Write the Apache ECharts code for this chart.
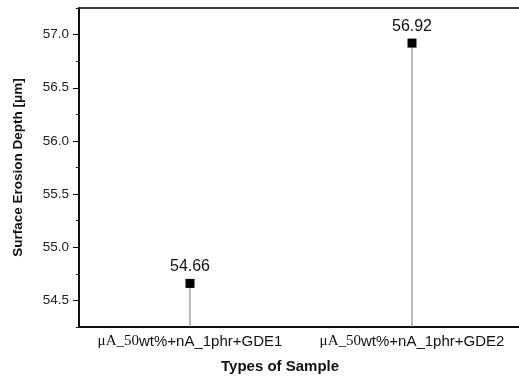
<!DOCTYPE html>
<html>
<head>
<meta charset="utf-8">
<script src="https://cdn.jsdelivr.net/npm/echarts@6/dist/echarts.min.js"></script>
<style>
html, body { margin: 0; padding: 0; background: #fff; }
#chart { width: 519px; height: 378px; }
</style>
</head>
<body>
<div id="chart"></div>
<script>
var samplePrefix = ['μA_50', 'μA_50'];
var sampleSuffix = ['wt%+nA_1phr+GDE1', 'wt%+nA_1phr+GDE2'];
var erosionDepth = [54.66, 56.92];
var majorTicks = [54.5, 55.0, 55.5, 56.0, 56.5, 57.0];
var minorTicks = [54.25, 54.75, 55.25, 55.75, 56.25, 56.75, 57.25];

var categories = sampleSuffix.map(function (s, i) { return i; });

var chart = echarts.init(document.getElementById('chart'));
var option = {
    animation: false,
    grid: {
        left: 79, top: 8, height: 319, width: 444,
        outerBoundsMode: 'none',
        containLabel: false,
        show: true, borderColor: '#000', borderWidth: 1.5
    },
    graphic: [{
        type: 'text',
        left: 221, top: 359,
        style: {
            text: 'Types of Sample',
            font: 'bold 15px "Liberation Sans", Arial, sans-serif',
            fill: '#111'
        }
    }],
    xAxis: {
        type: 'category',
        data: categories,
        axisLine: { lineStyle: { color: '#000', width: 1.5 } },
        axisTick: { show: false },
        axisLabel: {
            interval: 0,
            hideOverlap: false,
            margin: 7,
            formatter: function (v, i) {
                return '{s|' + samplePrefix[i] + '}{n|' + sampleSuffix[i] + '}';
            },
            rich: {
                s: { fontFamily: '"Liberation Serif", "Times New Roman", serif', fontSize: 15, color: '#111' },
                n: { fontFamily: '"Liberation Sans", Arial, sans-serif', fontSize: 15, color: '#111' }
            }
        }
    },
    yAxis: [{
        type: 'value',
        min: 54.25, max: 57.25,
        name: 'Surface Erosion Depth [μm]',
        nameLocation: 'middle',
        nameGap: 54,
        nameTextStyle: {
            fontFamily: '"Liberation Sans", Arial, sans-serif',
            fontWeight: 'bold', fontSize: 13.5, color: '#111'
        },
        axisLine: { show: true, lineStyle: { color: '#000', width: 1.5 } },
        axisTick: { show: true, customValues: majorTicks, length: 6, lineStyle: { color: '#000' } },
        axisLabel: {
            customValues: majorTicks,
            margin: 10,
            fontFamily: '"Liberation Sans", Arial, sans-serif',
            fontSize: 13.5, color: '#222',
            formatter: function (v) { return v.toFixed(1); }
        },
        splitLine: { show: false }
    }, {
        type: 'value',
        min: 54.25, max: 57.25,
        position: 'left',
        axisLine: { show: false },
        axisTick: { show: true, customValues: minorTicks, length: 3, lineStyle: { color: '#000' } },
        axisLabel: { show: false },
        splitLine: { show: false }
    }],
    series: [{
        type: 'bar',
        data: erosionDepth,
        barWidth: 1,
        itemStyle: { color: '#777' },
        z: 1
    }, {
        type: 'scatter',
        data: erosionDepth,
        symbol: 'rect',
        symbolSize: 9,
        itemStyle: { color: '#000', opacity: 1 },
        label: {
            show: true,
            position: 'top',
            distance: 4,
            fontFamily: '"Liberation Sans", Arial, sans-serif',
            fontSize: 16,
            color: '#111'
        },
        z: 3
    }]
};
chart.setOption(option);
</script>
</body>
</html>
